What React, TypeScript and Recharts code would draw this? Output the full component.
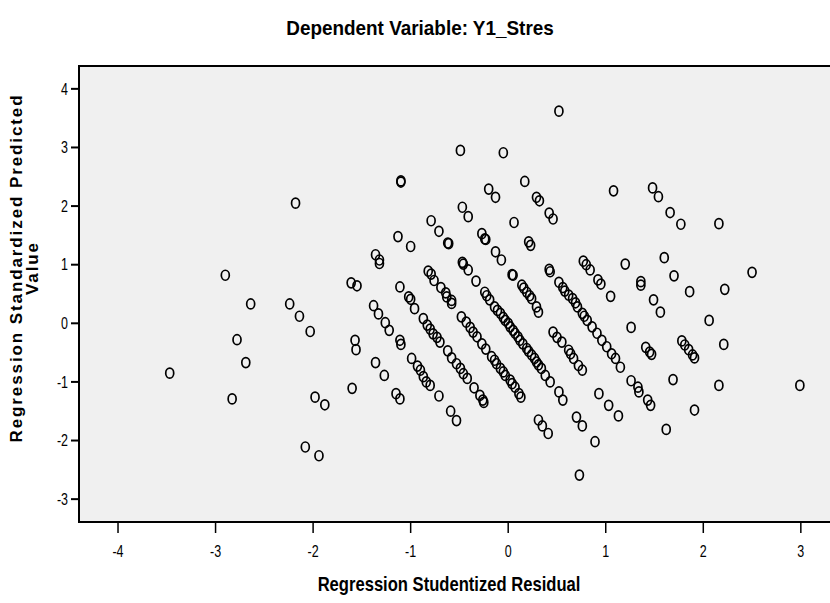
import React from "react";
import {
  ScatterChart,
  Scatter,
  XAxis,
  YAxis,
  ReferenceArea,
} from "recharts";

type Pt = [number, number];

// [studentized residual, standardized predicted value]
const leftOutliers: Pt[] = [
  [-3.47, -0.85], [-2.9, 0.82], [-2.83, -1.29], [-2.78, -0.28], [-2.69, -0.67],
  [-2.64, 0.33], [-2.24, 0.33], [-2.18, 2.05], [-2.14, 0.12], [-2.03, -0.14],
  [-1.98, -1.26], [-1.88, -1.39], [-2.08, -2.11], [-1.94, -2.26],
];

const bandMinus15: Pt[] = [
  [-1.61, 0.69], [-1.55, 0.64], [-1.57, -0.29], [-1.56, -0.45], [-1.6, -1.11],
  [-1.36, 1.17], [-1.32, 1.08], [-1.32, 1.02], [-1.38, 0.3], [-1.33, 0.16],
  [-1.26, 0.01], [-1.22, -0.12], [-1.36, -0.67], [-1.27, -0.89], [-1.15, -1.2],
  [-1.11, -1.29], [-1.1, 2.41], [-1.1, 2.43], [-1.13, 1.48], [-1.0, 1.31],
  [-1.11, 0.62], [-1.02, 0.45], [-1.0, 0.41], [-0.96, 0.25], [-1.11, -0.29],
  [-1.1, -0.36],
];

const bandMinus08: Pt[] = [
  [-0.79, 1.75], [-0.71, 1.57], [-0.62, 1.37], [-0.61, 1.36], [-0.82, 0.89],
  [-0.79, 0.84], [-0.76, 0.73], [-0.69, 0.61], [-0.64, 0.52], [-0.63, 0.45],
  [-0.58, 0.39], [-0.58, 0.34], [-0.87, 0.08], [-0.83, -0.03], [-0.8, -0.1],
  [-0.77, -0.18], [-0.73, -0.24], [-0.7, -0.32], [-0.99, -0.6], [-0.93, -0.73],
  [-0.9, -0.8], [-0.87, -0.91], [-0.84, -1.0], [-0.8, -1.06], [-0.71, -1.24],
];

const bandMinus05: Pt[] = [
  [-0.62, -0.47], [-0.58, -0.59], [-0.53, -0.69], [-0.49, -0.77], [-0.46, -0.86],
  [-0.42, -0.94], [-0.35, -1.1], [-0.29, -1.23], [-0.26, -1.31], [-0.25, -1.35],
  [-0.59, -1.5], [-0.53, -1.66], [-0.48, 0.11], [-0.43, 0.02], [-0.39, -0.07],
  [-0.36, -0.15], [-0.32, -0.23], [-0.27, -0.35], [-0.23, -0.44],
];

const upperBand: Pt[] = [
  [-0.49, 2.95], [-0.05, 2.91], [0.52, 3.62], [0.17, 2.42], [-0.2, 2.29],
  [-0.13, 2.15], [0.29, 2.15], [0.32, 2.09], [-0.47, 1.98], [-0.41, 1.82],
  [0.42, 1.88], [0.46, 1.78], [0.06, 1.72], [-0.27, 1.53], [-0.23, 1.43],
  [-0.24, 1.44], [-0.13, 1.22], [-0.07, 1.08], [0.21, 1.39], [0.23, 1.33],
  [-0.47, 1.04], [-0.46, 1.01], [-0.41, 0.91], [-0.33, 0.72], [0.04, 0.83],
  [0.05, 0.82], [0.42, 0.92], [0.43, 0.88], [0.77, 1.06], [0.8, 1.0],
  [0.84, 0.91], [0.92, 0.74], [0.95, 0.67], [1.05, 0.46],
];

const centreBand: Pt[] = [
  [-0.24, 0.53], [-0.22, 0.47], [-0.19, 0.4], [-0.14, 0.28], [-0.11, 0.22],
  [-0.08, 0.17], [-0.05, 0.1], [-0.03, 0.05], [0.0, 0.0], [0.02, -0.06],
  [0.05, -0.12], [0.07, -0.17], [0.1, -0.23], [0.12, -0.29], [0.15, -0.35],
  [0.19, -0.43], [0.21, -0.48], [0.24, -0.54], [0.27, -0.6], [0.29, -0.66],
  [0.31, -0.71], [0.34, -0.77], [0.38, -0.89], [0.43, -1.0],
  [-0.17, -0.57], [-0.14, -0.63], [-0.12, -0.69], [-0.08, -0.77], [-0.05, -0.83],
  [-0.03, -0.89], [0.02, -0.97], [0.04, -1.03], [0.07, -1.09], [0.11, -1.2],
  [0.13, -1.26], [0.14, 0.65], [0.16, 0.6], [0.19, 0.53], [0.22, 0.47],
  [0.24, 0.42], [0.29, 0.28], [0.31, 0.19],
];

const bandPlus07: Pt[] = [
  [0.46, -0.15], [0.5, -0.24], [0.55, -0.32], [0.62, -0.46], [0.64, -0.52],
  [0.67, -0.6], [0.72, -0.72], [0.76, -0.8], [0.52, 0.7], [0.56, 0.61],
  [0.58, 0.55], [0.62, 0.48], [0.66, 0.42], [0.69, 0.35], [0.71, 0.28],
  [0.76, 0.17], [0.78, 0.12], [0.81, 0.05], [0.86, -0.06], [0.91, -0.17],
  [0.96, -0.29], [1.01, -0.4], [1.06, -0.52], [1.1, -0.6], [1.15, -0.75],
  [0.52, -1.17], [0.56, -1.31], [0.31, -1.65], [0.35, -1.75], [0.41, -1.88],
  [0.7, -1.6], [0.76, -1.75], [0.89, -2.02], [0.73, -2.59], [0.93, -1.2],
  [1.03, -1.4], [1.13, -1.58],
];

const rightSide: Pt[] = [
  [1.08, 2.26], [1.2, 1.01], [1.48, 2.31], [1.54, 2.16], [1.66, 1.89],
  [1.77, 1.69], [2.16, 1.7], [1.6, 1.12], [1.7, 0.81], [2.5, 0.87],
  [1.36, 0.71], [1.36, 0.65], [1.86, 0.54], [2.22, 0.58], [1.49, 0.4],
  [1.56, 0.19], [1.26, -0.07], [2.06, 0.05], [2.21, -0.36], [1.78, -0.3],
  [1.81, -0.37], [1.85, -0.45], [1.89, -0.54], [1.91, -0.59], [1.41, -0.41],
  [1.45, -0.49], [1.47, -0.53], [1.69, -0.96], [2.16, -1.06], [2.99, -1.06],
  [1.26, -0.98], [1.33, -1.09], [1.34, -1.17], [1.43, -1.31], [1.46, -1.4],
  [1.91, -1.48], [1.62, -1.81],
];

const xTicks = [-4, -3, -2, -1, 0, 1, 2, 3];
const yTicks = [-3, -2, -1, 0, 1, 2, 3, 4];

const X_DOMAIN: [number, number] = [-4.4, 3.34];
const Y_DOMAIN: [number, number] = [-3.39, 4.39];

const points = [
  ...leftOutliers,
  ...bandMinus15,
  ...bandMinus08,
  ...bandMinus05,
  ...upperBand,
  ...centreBand,
  ...bandPlus07,
  ...rightSide,
].map(([x, y]) => ({ x, y }));

const font = "'Liberation Sans', Arial, sans-serif";

// open oval marker like the SPSS default
const Ring = (props: any) => {
  const { cx, cy } = props;
  if (cx == null || cy == null) return null;
  return (
    <ellipse cx={cx} cy={cy} rx={4} ry={5} fill="none" stroke="#000" strokeWidth={1.7} />
  );
};

// condensed tick labels (no narrow font installed, so squeeze horizontally)
const XTick = (props: any) => {
  const { x, y, payload } = props;
  return (
    <g transform={`translate(${x},${y})`}>
      <text
        transform="scale(0.78,1)"
        textAnchor="middle"
        dy="0.71em"
        fontSize={16}
        fontFamily={font}
        fill="#000"
      >
        {payload.value}
      </text>
    </g>
  );
};

const YTick = (props: any) => {
  const { x, y, payload } = props;
  return (
    <g transform={`translate(${x},${y})`}>
      <text
        transform="scale(0.78,1)"
        textAnchor="end"
        dy="0.36em"
        fontSize={16}
        fontFamily={font}
        fill="#000"
      >
        {payload.value}
      </text>
    </g>
  );
};

const squeezed = (left: number, top: number, scale: number): React.CSSProperties => ({
  position: "absolute",
  left,
  top,
  transform: `translateX(-50%) scaleX(${scale})`,
  whiteSpace: "nowrap",
  fontFamily: font,
  fontWeight: "bold",
  fontSize: 21,
  lineHeight: "24px",
  color: "#000",
});

export default function App() {
  return (
    <div
      style={{
        position: "absolute",
        left: 0,
        top: 0,
        width: 830,
        height: 603,
        overflow: "hidden",
        background: "#fff",
      }}
    >
      <div style={squeezed(420, 16, 0.9)}>Dependent Variable: Y1_Stres</div>

      <ScatterChart
        width={834}
        height={603}
        margin={{ top: 66, right: 0, bottom: 51, left: 49 }}
      >
        <ReferenceArea
          x1={X_DOMAIN[0]}
          x2={X_DOMAIN[1]}
          y1={Y_DOMAIN[0]}
          y2={Y_DOMAIN[1]}
          fill="#f0f0f0"
          fillOpacity={1}
          stroke="#000"
          strokeWidth={2}
        />
        <XAxis
          type="number"
          dataKey="x"
          domain={X_DOMAIN}
          ticks={xTicks}
          allowDataOverflow
          height={30}
          tickSize={11}
          tickMargin={13}
          axisLine={{ stroke: "#000", strokeWidth: 2 }}
          tickLine={{ stroke: "#000", strokeWidth: 1.5 }}
          tick={<XTick />}
        />
        <YAxis
          type="number"
          dataKey="y"
          domain={Y_DOMAIN}
          ticks={yTicks}
          allowDataOverflow
          width={30}
          tickSize={8}
          tickMargin={3}
          axisLine={{ stroke: "#000", strokeWidth: 1.5 }}
          tickLine={{ stroke: "#000", strokeWidth: 2 }}
          tick={<YTick />}
        />
        <Scatter data={points} shape={Ring} isAnimationActive={false} />
      </ScatterChart>

      <div style={squeezed(449, 572, 0.79)}>Regression Studentized Residual</div>

      <div
        style={{
          position: "absolute",
          left: 25,
          top: 268,
          width: 420,
          transform: "translate(-50%, -50%) rotate(-90deg)",
          textAlign: "center",
          fontFamily: font,
          fontWeight: "bold",
          fontSize: 17,
          letterSpacing: 1.9,
          lineHeight: "16px",
          color: "#000",
        }}
      >
        Regression Standardized Predicted
        <br />
        Value
      </div>
    </div>
  );
}
